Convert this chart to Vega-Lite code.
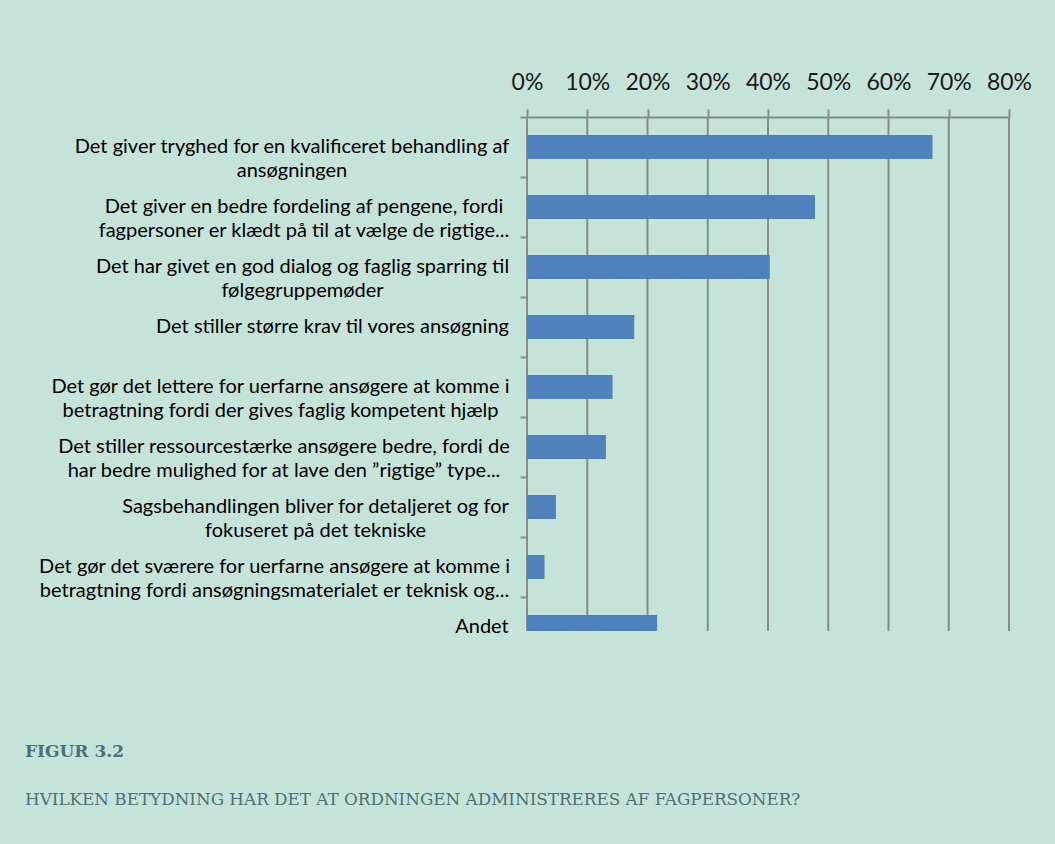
{
  "$schema": "https://vega.github.io/schema/vega-lite/v6.json",
  "width": 482,
  "height": 514,
  "autosize": {"type": "none"},
  "padding": {"left": 527, "top": 117, "right": 46, "bottom": 213},
  "background": "#c6e3da",
  "config": {
    "view": {"stroke": null},
    "font": "Lato",
    "axisX": {
      "orient": "top",
      "title": null,
      "labelOverlap": false,
      "labelFlush": false,
      "domain": true,
      "domainColor": "#858d89",
      "domainWidth": 2,
      "ticks": true,
      "tickSize": 8,
      "tickWidth": 2,
      "tickColor": "#858d89",
      "grid": false,
      "labelFont": "Lato",
      "labelFontSize": 23,
      "labelColor": "#1a1a1a",
      "labelPadding": 15
    }
  },
  "title": {
    "text": "FIGUR 3.2",
    "subtitle": "HVILKEN BETYDNING HAR DET AT ORDNINGEN ADMINISTRERES AF FAGPERSONER?",
    "orient": "bottom",
    "anchor": "start",
    "frame": "group",
    "dx": -502,
    "offset": 87,
    "font": "DejaVu Serif",
    "fontSize": 17,
    "fontWeight": "bold",
    "color": "#4d6f78",
    "subtitleFont": "DejaVu Serif",
    "subtitleFontSize": 16.8,
    "subtitleColor": "#4d6f78",
    "subtitlePadding": 31
  },
  "layer": [
    {
      "data": {"values": [{"grid": 0}, {"grid": 0.1}, {"grid": 0.2}, {"grid": 0.3}, {"grid": 0.4}, {"grid": 0.5}, {"grid": 0.6}, {"grid": 0.7}, {"grid": 0.8}]},
      "mark": {"type": "rule", "color": "#858d89", "strokeWidth": 2},
      "encoding": {
        "x": {
          "field": "grid",
          "type": "quantitative",
          "scale": {"domain": [0, 0.8], "nice": false},
          "axis": {"orient": "top", "title": null, "format": ".0%", "labelFlush": false, "values": [0, 0.1, 0.2, 0.3, 0.4, 0.5, 0.6, 0.7, 0.8]}
        }
      }
    },
    {
      "data": {
        "values": [
          {"item": "Det giver tryghed for en kvalificeret behandling af|ansøgningen", "share": 0.673},
          {"item": "Det giver en bedre fordeling af pengene, fordi|fagpersoner er klædt på til at vælge de rigtige...", "share": 0.478},
          {"item": "Det har givet en god dialog og faglig sparring til|følgegruppemøder", "share": 0.403},
          {"item": "Det stiller større krav til vores ansøgning", "share": 0.178},
          {"item": "Det gør det lettere for uerfarne ansøgere at komme i|betragtning fordi der gives faglig kompetent hjælp", "share": 0.142},
          {"item": "Det stiller ressourcestærke ansøgere bedre, fordi de|har bedre mulighed for at lave den ”rigtige” type...", "share": 0.131},
          {"item": "Sagsbehandlingen bliver for detaljeret og for|fokuseret på det tekniske", "share": 0.048},
          {"item": "Det gør det sværere for uerfarne ansøgere at komme i|betragtning fordi ansøgningsmaterialet er teknisk og...", "share": 0.029},
          {"item": "Andet", "share": 0.216}
        ]
      },
      "mark": {"type": "bar", "color": "#4f81bd", "clip": true, "height": {"band": 0.4}},
      "encoding": {
        "y": {
          "field": "item",
          "type": "nominal",
          "sort": null,
          "scale": {"range": [0, 540], "paddingInner": 0, "paddingOuter": 0},
          "axis": {
            "title": null,
            "domain": false,
            "bandPosition": 0,
            "ticks": true,
            "tickSize": 7,
            "tickWidth": 2,
            "tickColor": "#858d89",
            "labelExpr": "split(datum.label, '|')",
            "labelFont": "Lato",
            "labelFontSize": 20,
            "labelColor": "#000000",
            "labelLimit": 700,
            "labelPadding": {"expr": "12 + [216.5, 204.5, 206, 176, 228, 224.5, 193, 234, 26.5][round(datum.index * 8)]"},
            "labelLineHeight": 24,
            "labelAlign": "center",
            "labelBaseline": "middle"
          }
        },
        "x": {
          "field": "share",
          "type": "quantitative",
          "scale": {"domain": [0, 0.8], "nice": false},
          "axis": {"orient": "top", "title": null, "format": ".0%", "labelFlush": false, "values": [0, 0.1, 0.2, 0.3, 0.4, 0.5, 0.6, 0.7, 0.8]}
        }
      }
    }
  ]
}
